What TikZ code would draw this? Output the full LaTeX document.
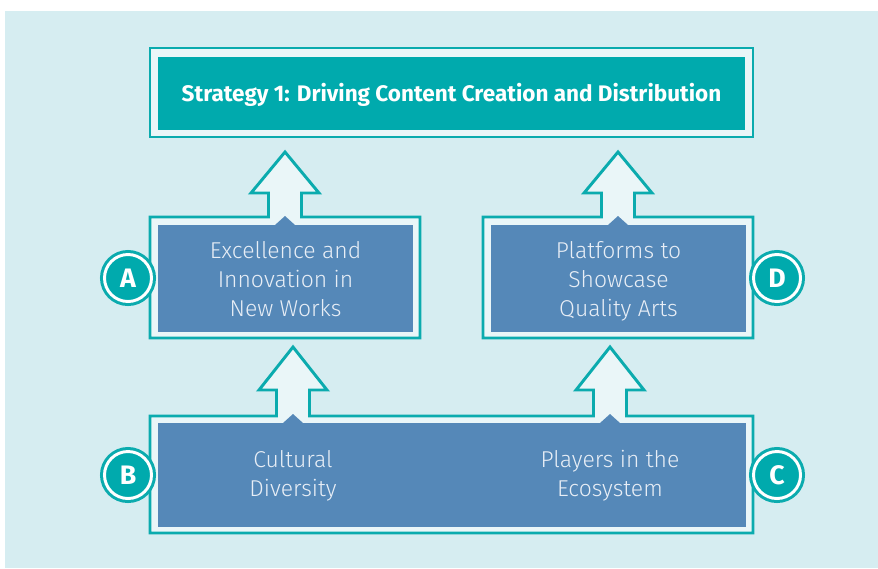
\documentclass[tikz,border=0pt]{standalone}
\usepackage{fontspec}
\setmainfont{Fira Sans}
\newfontfamily\lightfont{Fira Sans Light}
\definecolor{paleback}{HTML}{D6EDF1}
\definecolor{rimteal}{HTML}{0BABAE}
\definecolor{rimfill}{HTML}{EAF6F8}
\definecolor{headteal}{HTML}{00AAAD}
\definecolor{pillarblue}{HTML}{5588B8}
\definecolor{softwhite}{HTML}{E8EEF6}
\begin{document}
\begin{tikzpicture}[x=0.025cm,y=-0.025cm,
	rim/.style={draw=rimteal,line width=2.1pt,fill=rimfill,line join=miter},
	pillar/.style={fill=pillarblue},
	pillartext/.style={text=softwhite,align=center,font=\lightfont\fontsize{16.3}{20.6}\selectfont},
	badge/.style={circle,fill=headteal,draw=white,line width=2.1pt,minimum size=1.175cm,inner sep=0pt,
		preaction={draw=rimteal,line width=6.4pt},text=white,font=\bfseries\fontsize{19}{19}\selectfont}]
	\useasboundingbox (0,0) rectangle (878,568);
	\fill[paleback] (5,11) rectangle (878,568);
	% strategy heading
	\draw[rim] (150,48) rectangle (753,137);
	\fill[headteal] (158,57) rectangle (745,130);
	\node[text=white,font=\bfseries\fontsize{16}{19}\selectfont] (strategy) at (451.5,95) {Strategy 1: Driving Content Creation and Distribution};
	% middle row, two pillars with arrows up
	\draw[rim] (150,338) -- (150,217) -- (268.5,217) -- (268.5,193) -- (251,193) -- (285,152)
		-- (319,193) -- (301.5,193) -- (301.5,217) -- (420,217) -- (420,338) -- cycle;
	\fill[pillar] (158,225) rectangle (413,332);
	\fill[pillar] (275,225) -- (285,216) -- (295,225) -- cycle;
	\node[pillartext] (works) at (285.5,279) {Excellence and\\Innovation in\\New Works};
	\draw[rim] (483,338) -- (483,217) -- (601.5,217) -- (601.5,193) -- (584,193) -- (618,152)
		-- (652,193) -- (634.5,193) -- (634.5,217) -- (753,217) -- (753,338) -- cycle;
	\fill[pillar] (491,225) rectangle (746,332);
	\fill[pillar] (608,225) -- (618,216) -- (628,225) -- cycle;
	\node[pillartext] (platforms) at (618.5,281) {Platforms to\\Showcase\\Quality Arts};
	% bottom row, one box with two arrows
	\draw[rim] (150,533) -- (150,416) -- (276.5,416) -- (276.5,390) -- (259,390) -- (293,347)
		-- (327,390) -- (309.5,390) -- (309.5,416) -- (593.5,416) -- (593.5,390) -- (576,390)
		-- (610,347) -- (644,390) -- (626.5,390) -- (626.5,416) -- (753,416) -- (753,533) -- cycle;
	\fill[pillar] (158,423) rectangle (746,527);
	\fill[pillar] (283,423) -- (293,414) -- (303,423) -- cycle;
	\fill[pillar] (600,423) -- (610,414) -- (620,423) -- cycle;
	\node[pillartext] (diversity) at (293,476) {Cultural\\Diversity};
	\node[pillartext] (players) at (610,476) {Players in the\\Ecosystem};
	% lettered badges
	\node[badge] (A) at (128,278) {A};
	\node[badge] (D) at (777,278) {D};
	\node[badge] (B) at (128,475) {B};
	\node[badge] (C) at (777,475) {C};
\end{tikzpicture}
\end{document}
